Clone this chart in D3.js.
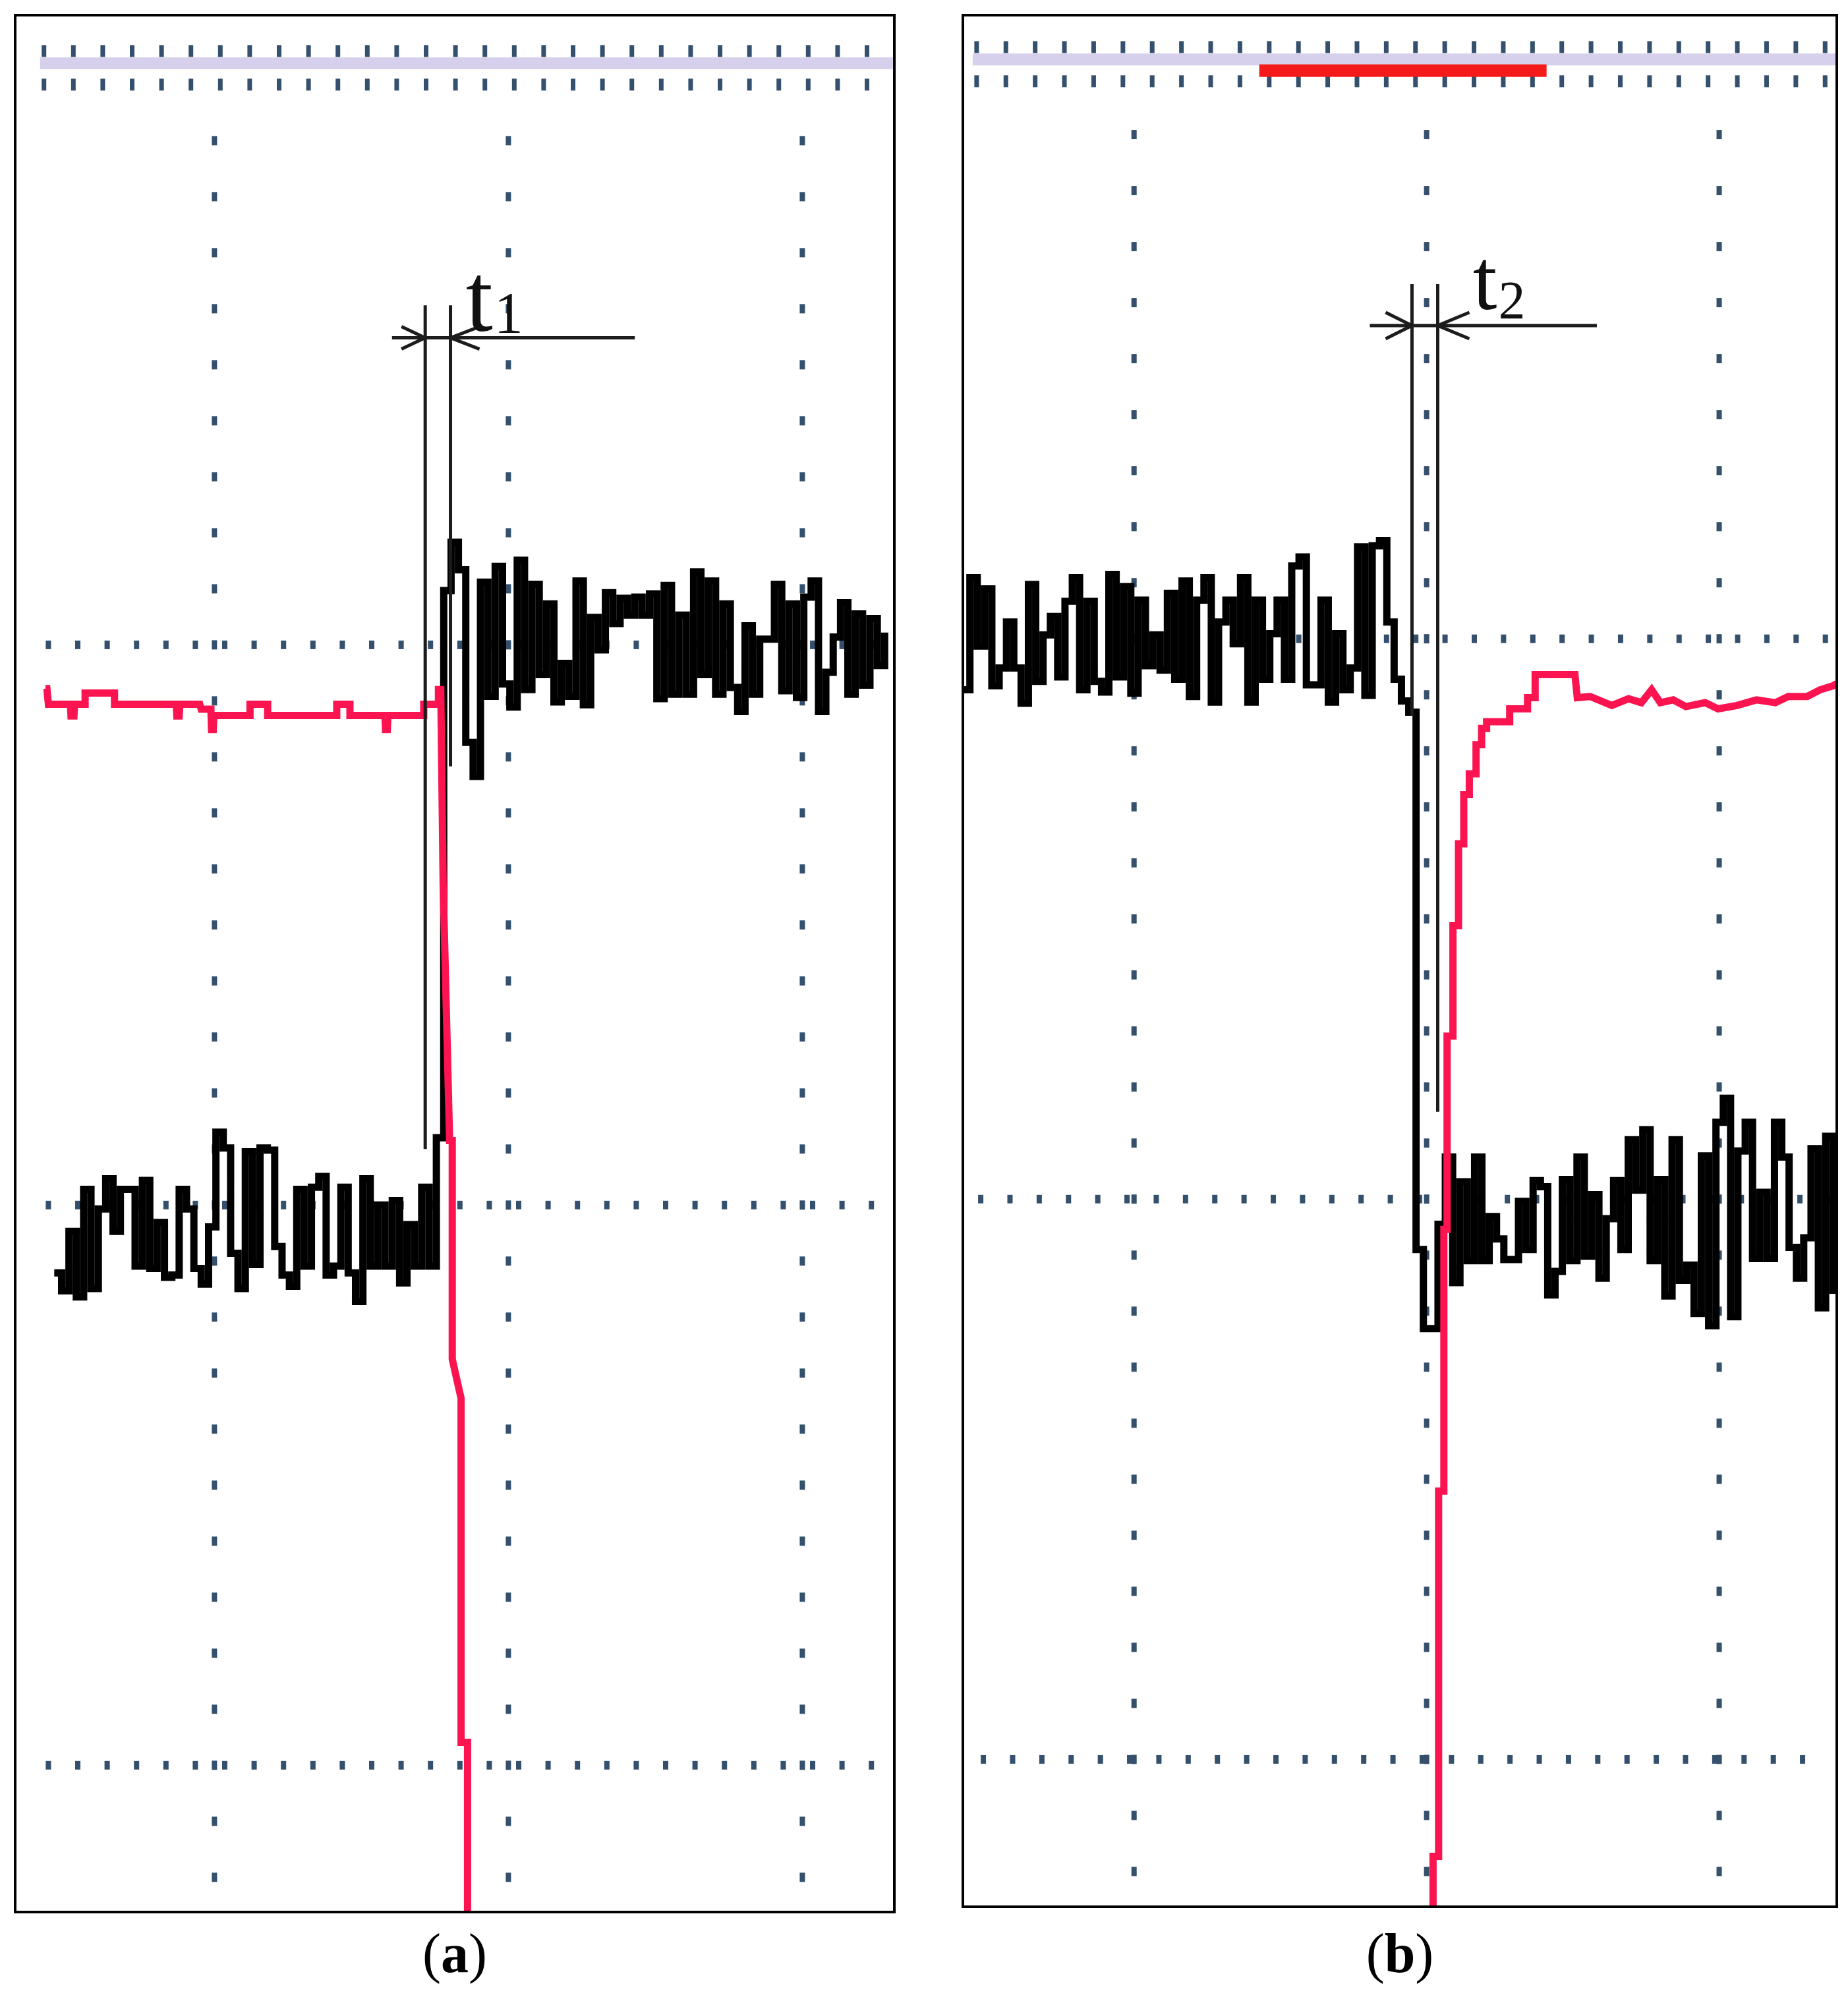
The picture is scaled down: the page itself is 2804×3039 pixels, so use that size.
<!DOCTYPE html>
<html><head><meta charset="utf-8">
<script src="https://cdn.jsdelivr.net/npm/d3@7"></script>
<style>html,body{margin:0;padding:0;background:#fff}svg{display:block}</style>
</head><body>
<svg id="chart" width="2804" height="3039"></svg>
<script>
// ================= DATA (oscilloscope divisions) =================
const sampleStep = 0.025;

// Panel (a): black trace, first sample time and values
const blackA_start = -0.545;
const blackA = [
  -1.121,-1.153,-1.047,-1.164,-0.972,-1.149,-1.007,-0.953,-1.047,-0.972,
  -0.972,-1.109,-0.956,-1.113,-1.031,-1.129,-1.125,-0.972,-1.007,-1.113,
  -1.141,-1.039,-0.870,-0.898,-1.086,-1.149,-0.905,-1.106,-0.898,-0.902,
  -1.074,-1.125,-1.145,-0.972,-1.109,-0.968,-0.949,-1.125,-1.109,-0.968,
  -1.121,-1.172,-0.953,-1.109,-1.000,-1.109,-0.992,-1.139,-1.035,-1.109,
  -0.968,-1.109,-0.880,
  0.097, 0.183, 0.134,-0.174,-0.235, 0.112,-0.092, 0.140,-0.070,-0.111,
  0.151,-0.080, 0.108,-0.053, 0.073,-0.102,-0.033,-0.092, 0.114,-0.107,
  0.049,-0.009, 0.093, 0.038, 0.083, 0.053, 0.085, 0.053, 0.091,-0.096,
  0.106,-0.088, 0.053,-0.088, 0.130,-0.053, 0.114,-0.088, 0.073,-0.076,
 -0.119, 0.034,-0.088, 0.010, 0.010, 0.108,-0.082, 0.073,-0.094, 0.085,
  0.114,-0.119,-0.049, 0.014, 0.075,-0.088, 0.055,-0.072, 0.047,-0.037,
  0.022
];

// Panel (b): black trace
const blackB_start = -0.586;
const blackB = [
 -0.091, 0.109,-0.013, 0.089,-0.084,-0.052, 0.030,-0.052,-0.115, 0.097,
 -0.076, 0.007, 0.040,-0.068, 0.067, 0.109,-0.091, 0.067,-0.076,-0.095,
  0.115,-0.068, 0.093,-0.097, 0.069,-0.048, 0.007,-0.056, 0.081,-0.072,
  0.103,-0.103, 0.069, 0.109,-0.113, 0.030, 0.069,-0.009, 0.109,-0.113,
  0.069,-0.072, 0.009, 0.069,-0.072, 0.130, 0.146,-0.082,-0.082, 0.069,
 -0.113, 0.009,-0.091,-0.052, 0.164,-0.101, 0.166, 0.175, 0.030,-0.072,
 -0.111,-0.131,
 -1.090,-1.231,-1.231,-1.045,-0.925,-1.149,-0.969,-1.110,-0.925,-1.110,
 -1.031,-1.071,-1.108,-1.108,-1.004,-1.090,-0.967,-0.978,-1.171,-1.129,
 -0.965,-1.110,-0.925,-1.102,-0.992,-1.141,-1.035,-0.967,-1.090,-0.894,
 -0.984,-0.876,-1.110,-0.965,-1.173,-0.894,-1.145,-1.118,-1.204,-0.923,
 -1.226,-0.863,-0.820,-1.210,-0.914,-0.863,-1.106,-0.988,-1.106,-0.863,
 -0.925,-1.086,-1.141,-1.069,-0.910,-1.194,-0.888,-1.169
];

// Panel (a): red trace (time, value)
const redA_t = [-0.575,-0.570,-0.565,-0.490,-0.488,-0.478,-0.476,-0.440,-0.440,-0.340,
  -0.340,-0.130,-0.128,-0.120,-0.118,-0.050,-0.045,-0.012,-0.010,-0.004,
  -0.002,0.121,0.121,0.181,0.181,0.416,0.416,0.461,0.461,0.580,
  0.582,0.588,0.590,0.712,0.712,0.762,0.762,0.770,0.778,0.800,
  0.809,0.809,0.839,0.839,0.861,0.861];
const redA_v = [-0.078,-0.078,-0.106,-0.106,-0.127,-0.127,-0.106,-0.106,-0.086,-0.086,
  -0.106,-0.106,-0.127,-0.127,-0.106,-0.106,-0.115,-0.115,-0.151,-0.151,
  -0.126,-0.126,-0.106,-0.106,-0.126,-0.126,-0.106,-0.106,-0.126,-0.126,
  -0.151,-0.151,-0.126,-0.126,-0.106,-0.106,-0.080,-0.080,-0.426,-0.885,
  -0.885,-1.275,-1.345,-1.959,-1.959,-2.300];

// Panel (b): red trace (time, value)
const redB_t = [1.022,1.022,1.041,1.041,1.059,1.059,1.070,1.070,1.090,1.090,
  1.109,1.109,1.127,1.127,1.146,1.146,1.169,1.169,1.188,1.188,
  1.205,1.205,1.284,1.284,1.345,1.345,1.371,1.371,1.507,1.515,
  1.559,1.633,1.690,1.734,1.769,1.799,1.843,1.886,1.952,1.996,
  2.061,2.127,2.192,2.236,2.301,2.345,2.389,2.402];
const redB_v = [-2.300,-2.173,-2.173,-1.521,-1.521,-1.054,-1.054,-0.709,-0.709,-0.512,
  -0.512,-0.366,-0.366,-0.278,-0.278,-0.241,-0.241,-0.189,-0.189,-0.160,
  -0.160,-0.148,-0.148,-0.125,-0.125,-0.105,-0.105,-0.064,-0.064,-0.105,
  -0.103,-0.119,-0.107,-0.114,-0.091,-0.114,-0.109,-0.121,-0.114,-0.125,
  -0.119,-0.109,-0.114,-0.103,-0.103,-0.091,-0.084,-0.080];

// Screen marker bar in panel (b) (start, end) in div
const markerB = [0.428, 1.410];

// Grid divisions
const gridCols = [0, 1, 2];
const gridRows = [1, 0, -1, -2];

// Interval markers: start / end times (div) and labels
const intervalStart = [0.717, 0.950];
const intervalEnd   = [0.803, 1.038];
const intervalSub   = ["1", "2"];
const panelLetters  = ["a", "b"];

// ================= LAYOUT / STYLE =================
const panels = [
  { frame:[23,23,1357,2901], xDom:[-0.678,2.313], yDom:[1.124,-2.262],
    black:blackA, blackStart:blackA_start, redT:redA_t, redV:redA_v,
    topRows:[1.06,1.0], band:1.038, rowsSpan:[[-0.58,2.29]],
    rowSpan:{"0":[-0.565,2.27],"-1":[-0.565,2.24],"-2":[-0.565,2.24]},
    ann:{top:0.606, arrowY:0.548, bot1:-0.90, bot2:-0.217, lineFrom:0.604, lineTo:1.430,
         tX:0.864, tY:0.561, subDy:2, tSize:148, sSize:88, headL:[36,44], headW:17},
    marker:null },
  { frame:[1461,23,2787,2893], xDom:[-0.585,2.402], yDom:[1.113,-2.263],
    black:blackB, blackStart:blackB_start, redT:redB_t, redV:redB_v,
    topRows:[1.056,0.995], band:1.034, rowsSpan:[[-0.538,2.39]],
    rowSpan:{"0":[-0.537,2.376],"-1":[-0.524,2.376],"-2":[-0.515,2.376]},
    ann:{top:0.633, arrowY:0.559, bot1:-0.137, bot2:-0.844, lineFrom:0.806, lineTo:1.582,
         tX:1.167, tY:0.588, subDy:14, tSize:132, sSize:82, headL:[40,48], headW:20},
    marker:markerB }
];

const dotColor = "#34506c";
const svg = d3.select("#chart");

panels.forEach((p, i) => {
  const [fx0, fy0, fx1, fy1] = p.frame;
  const x = d3.scaleLinear().domain(p.xDom).range([fx0, fx1]);
  const y = d3.scaleLinear().domain(p.yDom).range([fy0, fy1]);
  const g = svg.append("g");

  const clipId = "clip" + i;
  svg.append("clipPath").attr("id", clipId)
    .append("rect").attr("x", fx0).attr("y", fy0).attr("width", fx1 - fx0).attr("height", fy1 - fy0);
  const inner = g.append("g").attr("clip-path", `url(#${clipId})`);

  // lavender band at the top of the screen
  inner.append("rect")
    .attr("x", x(p.rowsSpan[0][0]) - 6).attr("width", x(p.rowsSpan[0][1]) - x(p.rowsSpan[0][0]) + 14)
    .attr("y", y(p.band) - 9).attr("height", 18)
    .attr("fill", "#d2cbea").attr("opacity", 0.9);

  // top tick rows
  p.topRows.forEach(ry => {
    const xs = d3.range(p.rowsSpan[0][0], p.rowsSpan[0][1] + 1e-6, 0.1);
    inner.selectAll(null).data(xs).enter().append("rect")
      .attr("x", d => x(d) - 3.5).attr("y", y(ry) - 9)
      .attr("width", 7).attr("height", 18).attr("fill", dotColor);
  });

  // horizontal dotted grid rows
  gridRows.filter(r => r <= 0).forEach(r => {
    const span = p.rowSpan[String(r)];
    const xs = d3.range(span[0], span[1] + 1e-6, 0.1);
    inner.selectAll(null).data(xs).enter().append("rect")
      .attr("x", d => x(d) - 4).attr("y", y(r) - 6.5)
      .attr("width", 8).attr("height", 13).attr("fill", dotColor);
  });

  // vertical dotted grid columns
  gridCols.forEach(c => {
    const ys = d3.range(-2.2, 0.95, 0.1);
    inner.selectAll(null).data(ys).enter().append("rect")
      .attr("x", x(c) - 4).attr("y", d => y(d) - 7)
      .attr("width", 8).attr("height", 14).attr("fill", dotColor);
  });

  // marker bar
  if (p.marker) {
    inner.append("rect")
      .attr("x", x(p.marker[0])).attr("width", x(p.marker[1]) - x(p.marker[0]))
      .attr("y", y(1.014) - 9.5).attr("height", 19)
      .attr("fill", "#f41a1a");
  }

  // black trace (sample & hold)
  const blackLine = d3.line()
    .x((d, k) => x(p.blackStart + k * sampleStep))
    .y(d => y(d))
    .curve(d3.curveStepAfter);
  inner.append("path").datum(p.black)
    .attr("d", blackLine)
    .attr("fill", "none").attr("stroke", "#000")
    .attr("stroke-width", 11).attr("stroke-linejoin", "miter");

  // red trace
  const redPts = p.redT.map((t, k) => [t, p.redV[k]]);
  inner.append("path").datum(redPts)
    .attr("d", d3.line().x(d => x(d[0])).y(d => y(d[1])))
    .attr("fill", "none").attr("stroke", "#fb1450")
    .attr("stroke-width", 11).attr("stroke-linejoin", "miter");

  // interval annotation
  const a = p.ann;
  const xs1 = x(intervalStart[i]), xs2 = x(intervalEnd[i]);
  const ay = y(a.arrowY);
  const ann = g.append("g").attr("stroke", "#1c1c1c").attr("stroke-width", 5).attr("fill", "none");
  ann.append("line").attr("x1", xs1).attr("x2", xs1).attr("y1", y(a.top)).attr("y2", y(a.bot1));
  ann.append("line").attr("x1", xs2).attr("x2", xs2).attr("y1", y(a.top)).attr("y2", y(a.bot2));
  ann.append("line").attr("x1", x(a.lineFrom)).attr("x2", x(a.lineTo)).attr("y1", ay).attr("y2", ay);
  ann.append("path").attr("d", `M${xs1 - a.headL[0]},${ay - a.headW} L${xs1},${ay} L${xs1 - a.headL[0]},${ay + a.headW}`);
  ann.append("path").attr("d", `M${xs2 + a.headL[1]},${ay - a.headW} L${xs2},${ay} L${xs2 + a.headL[1]},${ay + a.headW}`);

  const lbl = g.append("text").attr("x", x(a.tX) - 4).attr("y", y(a.tY))
    .attr("font-family", "Liberation Serif, Times New Roman, serif")
    .attr("font-size", a.tSize).attr("fill", "#111");
  lbl.append("tspan").text("t");
  lbl.append("tspan").attr("font-size", a.sSize).attr("dx", 2).attr("dy", a.subDy).text(intervalSub[i]);

  // frame
  g.append("rect").attr("x", fx0).attr("y", fy0).attr("width", fx1 - fx0).attr("height", fy1 - fy0)
    .attr("fill", "none").attr("stroke", "#000").attr("stroke-width", 4);

  // panel label
  const lab = svg.append("text")
    .attr("x", (fx0 + fx1) / 2).attr("y", 2992)
    .attr("text-anchor", "middle")
    .attr("font-family", "Liberation Serif, Times New Roman, serif")
    .attr("font-size", 84).attr("fill", "#000");
  lab.append("tspan").text("(");
  lab.append("tspan").attr("font-weight", "bold").text(panelLetters[i]);
  lab.append("tspan").text(")");
});
</script>
</body></html>
